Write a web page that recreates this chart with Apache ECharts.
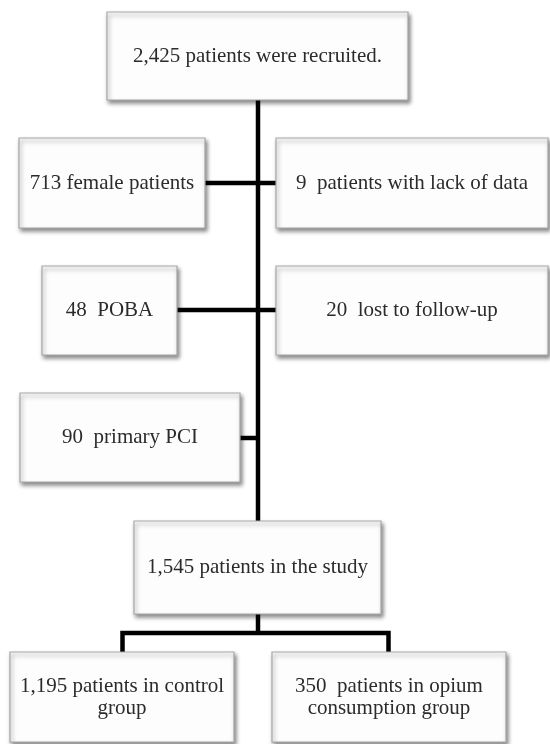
<!DOCTYPE html>
<html>
<head>
<meta charset="utf-8">
<script src="https://cdn.jsdelivr.net/npm/echarts@6/dist/echarts.min.js"></script>
<style>
html,body{margin:0;padding:0;background:#fff;}
#chart{width:550px;height:744px;}
</style>
</head>
<body>
<div id="chart"></div>
<script>
// Flowchart boxes (data coordinates: x 0..550, y 0..744 top-down)
const boxLabels = [
  "2,425 patients were recruited.",
  "713 female patients",
  "9  patients with lack of data",
  "48  POBA",
  "20  lost to follow-up",
  "90  primary PCI",
  "1,545 patients in the study",
  "1,195 patients in control\ngroup",
  "350  patients in opium\nconsumption group"
];
const boxLeft   = [107, 19, 276, 42, 276, 20, 134, 10, 272];
const boxTop    = [12, 138, 138, 266, 266, 393, 521, 652, 652];
const boxRight  = [408, 205, 548, 177, 548, 240, 381, 234, 506];
const boxBottom = [100, 228, 228, 355, 355, 482, 614, 742, 742];

// Connector polylines
const connectors = [
  [[258, 100], [258, 521]],
  [[205, 183], [276, 183]],
  [[177, 310], [276, 310]],
  [[240, 438], [258, 438]],
  [[258, 614], [258, 633]],
  [[122.5, 652], [122.5, 633], [388.5, 633], [388.5, 652]]
];

const boxData = boxLabels.map((t, i) => [boxLeft[i], boxTop[i], boxRight[i], boxBottom[i], t]);

const chart = echarts.init(document.getElementById('chart'));
chart.setOption({
  backgroundColor: '#ffffff',
  animation: false,
  grid: { left: 0, right: 0, top: 0, bottom: 0 },
  xAxis: { type: 'value', min: 0, max: 550, show: false },
  yAxis: { type: 'value', min: 0, max: 744, inverse: true, show: false },
  series: [
    {
      type: 'lines',
      coordinateSystem: 'cartesian2d',
      polyline: true,
      z: 1,
      lineStyle: { color: '#000', width: 4.5, opacity: 1, cap: 'butt', join: 'miter' },
      data: connectors.map(c => ({ coords: c }))
    },
    {
      type: 'custom',
      z: 2,
      data: boxData,
      encode: { x: [0, 2], y: [1, 3] },
      renderItem: function (params, api) {
        const p0 = api.coord([api.value(0), api.value(1)]);
        const p1 = api.coord([api.value(2), api.value(3)]);
        const label = boxData[params.dataIndex][4];
        return {
          type: 'group',
          children: [
            {
              type: 'rect',
              shape: { x: p0[0], y: p0[1], width: p1[0] - p0[0], height: p1[1] - p0[1] },
              style: {
                fill: '#fdfdfd',
                stroke: '#a8a8a8',
                lineWidth: 1.2,
                shadowColor: 'rgba(0,0,0,0.45)',
                shadowBlur: 4,
                shadowOffsetX: 1.5,
                shadowOffsetY: 3
              }
            },
            {
              type: 'text',
              style: {
                x: (p0[0] + p1[0]) / 2,
                y: (p0[1] + p1[1]) / 2,
                text: label,
                align: 'center',
                verticalAlign: 'middle',
                fontFamily: '"Liberation Serif", "DejaVu Serif", serif',
                fontSize: 21,
                lineHeight: 22,
                fill: '#2b2b2b'
              }
            }
          ]
        };
      }
    }
  ]
});
</script>
</body>
</html>
